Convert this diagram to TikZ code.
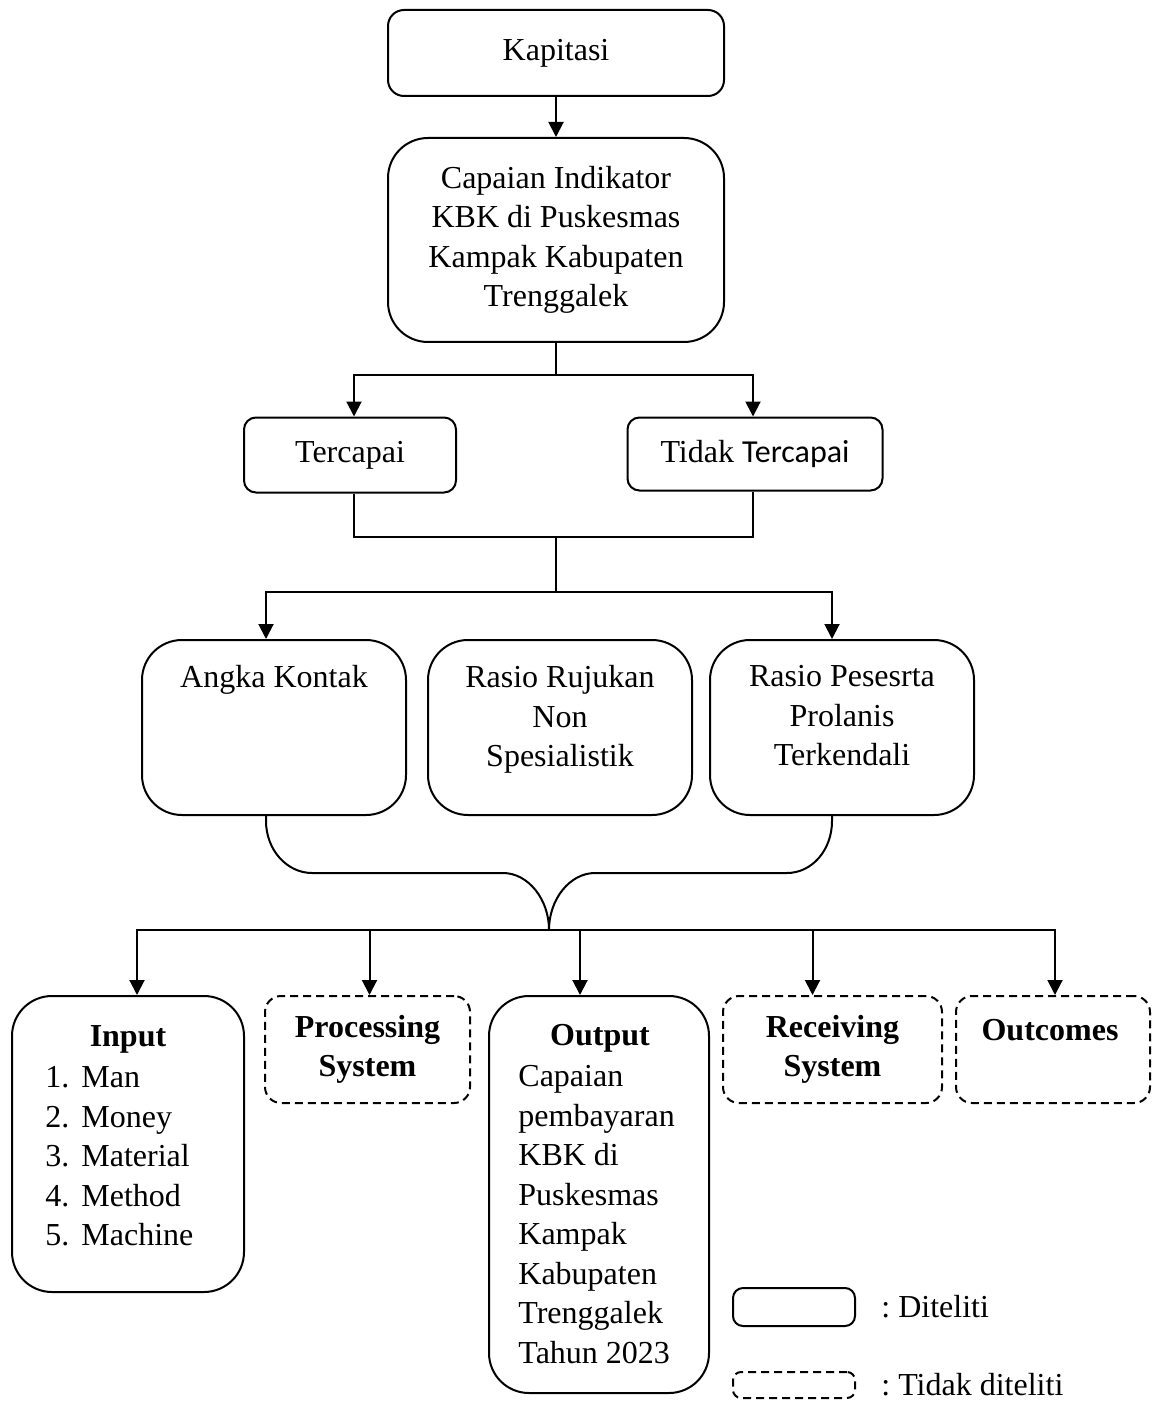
\documentclass[tikz,border=0pt]{standalone}
\usepackage{fontspec}
\setmainfont{Liberation Serif}
\newfontfamily\calibri{Carlito}
\usetikzlibrary{arrows.meta, positioning}

\begin{document}
\begin{tikzpicture}[
    x=0.5pt, y=-0.5pt,
    font=\fontsize{16}{19.75}\selectfont,
    box/.style={rectangle, draw, line width=1pt, rounded corners=20pt, align=center, inner sep=0pt},
    dbox/.style={box, dash pattern=on 4pt off 2.5pt, rounded corners=8pt, font=\fontsize{16}{19.75}\selectfont\bfseries},
    txt/.style={inner sep=0pt, anchor=north},
    arrow/.style={-{Triangle[length=7.5pt, width=7.5pt]}, line width=1pt},
    line/.style={line width=1pt}
]
\useasboundingbox (0,0) rectangle (1162,1401);

% Top part
\node[box, rounded corners=8pt, minimum width=168pt, minimum height=43pt] (kapitasi) at (556,53) {Kapitasi};
\node[box, minimum width=168pt, minimum height=102pt] (capaian) at (556,240) {Capaian Indikator\\KBK di Puskesmas\\Kampak Kabupaten\\Trenggalek};
\node[box, rounded corners=6pt, minimum width=106pt, minimum height=37.5pt] (tercapai) at (350,455) {Tercapai};
\node[box, rounded corners=6pt, minimum width=127.5pt, minimum height=36.5pt] (tidak) at (755,454) {Tidak {\calibri Tercapai}};

% Indicators
\node[box, minimum width=132pt, minimum height=87.5pt] (angka) at (274,727.5) {};
\node[box, minimum width=132pt, minimum height=87.5pt] (rujukan) at (560,727.5) {};
\node[box, minimum width=132pt, minimum height=87.5pt] (prolanis) at (842,727.5) {};
\node[txt, below=13pt of angka.north] (angkaT) {Angka Kontak};
\node[txt, align=center, below=13pt of rujukan.north] (rujukanT) {Rasio Rujukan\\Non\\Spesialistik};
\node[txt, align=center, below=13pt of prolanis.north] (prolanisT) {Rasio Pesesrta\\Prolanis\\Terkendali};

% System boxes
\node[box, minimum width=116pt, minimum height=148pt] (input) at (128,1144) {};
\node[dbox, minimum width=102.5pt, minimum height=53.5pt] (processing) at (367.5,1049.5) {Processing\\System};
\node[box, minimum width=110pt, minimum height=198.5pt] (output) at (599,1194.5) {};
\node[dbox, minimum width=109.5pt, minimum height=53.5pt] (receiving) at (832.5,1049.5) {Receiving\\System};
\node[dbox, minimum width=97pt, minimum height=53.5pt] (outcomes) at (1053,1049.5) {};
\node[txt, font=\fontsize{16}{19.75}\selectfont\bfseries] (inputT) at (128,1025) {Input};
\node[txt, anchor=north west, align=left] (inputL) at (45,1066) {1.\hspace{6pt}Man\\2.\hspace{6pt}Money\\3.\hspace{6pt}Material\\4.\hspace{6pt}Method\\5.\hspace{6pt}Machine};
\node[txt, font=\fontsize{16}{19.75}\selectfont\bfseries] (outputT) at (600,1024) {Output};
\node[txt, anchor=north west, align=left] (outputL) at (518,1065) {Capaian\\pembayaran\\KBK di\\Puskesmas\\Kampak\\Kabupaten\\Trenggalek\\Tahun 2023};
\node[txt, font=\fontsize{16}{19.75}\selectfont\bfseries] (outcomesT) at (1050,1019) {Outcomes};

% Legend
\node[box, rounded corners=5pt, minimum width=61pt, minimum height=19pt] (legsolid) at (794,1307) {};
\node[box, dash pattern=on 4pt off 2.5pt, rounded corners=4pt, minimum width=61pt, minimum height=13pt] (legdash) at (794,1385) {};
\node[inner sep=0pt, right=12.5pt of legsolid] (legsolidT) {:\ Diteliti};
\node[inner sep=0pt, right=12.5pt of legdash] (legdashT) {:\ Tidak diteliti};

% Connectors
\coordinate (split1) at (556,375);
\coordinate (join1) at (556,537);
\coordinate (split2) at (556,592);
\coordinate (tip) at (549,930);
\draw[arrow] (kapitasi) -- (capaian);
\draw[line] (capaian) -- (split1);
\draw[arrow] (split1) -| ([xshift=2pt]tercapai.north);
\draw[arrow] (split1) -| ([xshift=-1pt]tidak.north);
\draw[line] ([xshift=2pt]tercapai.south) |- (join1) -| ([xshift=-1pt]tidak.south);
\draw[line] (join1) -- (split2);
\draw[arrow] (split2) -| ([xshift=-4pt]angka.north);
\draw[arrow] (split2) -| ([xshift=-5pt]prolanis.north);

% Brace
\draw[line] ([xshift=-4pt]angka.south) -- ++(0,5) .. controls +(0,29) and +(-25,0) .. (312,873) -- (503,873) .. controls +(25,0) and +(0,-31) .. (tip);
\draw[line] ([xshift=-5pt]prolanis.south) -- ++(0,5) .. controls +(0,29) and +(25,0) .. (787,873) -- (595,873) .. controls +(-25,0) and +(0,-31) .. (tip);

\draw[arrow] (tip) -| ([xshift=4.5pt]input.north);
\draw[arrow] (tip) -| ([xshift=1pt]processing.north);
\draw[arrow] (tip) -| ([xshift=-9.5pt]output.north);
\draw[arrow] (tip) -| ([xshift=-10pt]receiving.north);
\draw[arrow] (tip) -| ([xshift=1pt]outcomes.north);

\end{tikzpicture}
\end{document}
